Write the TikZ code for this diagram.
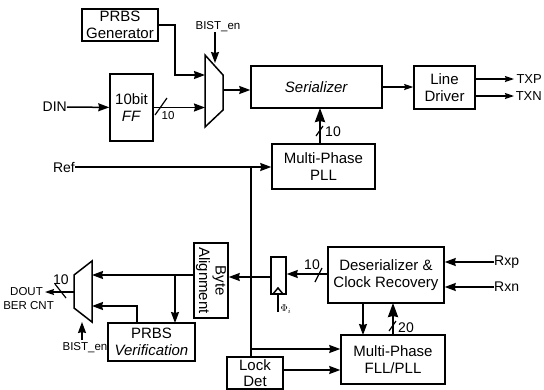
\documentclass[tikz,border=0pt]{standalone}
\usepackage{fontspec}
\setmainfont{Liberation Sans}
\usetikzlibrary{arrows.meta, positioning, calc}

\begin{document}
\begin{tikzpicture}[
        x=1pt, y=-1pt,
        block/.style={rectangle, draw, line width=1.5pt, inner sep=0pt, align=center, font=\fontsize{15}{16.5}\selectfont},
        sig/.style={inner sep=0pt, font=\fontsize{14}{15}\selectfont},
        smalltext/.style={inner sep=0pt, font=\fontsize{11.5}{13.5}\selectfont},
        mux/.style={draw, line width=1.5pt, line join=miter},
        wire/.style={line width=1.5pt},
        arrow/.style={-{Stealth[length=11pt, width=8pt, inset=1pt]}, line width=1.5pt},
        minor/.style={-{Stealth[length=9pt, width=6pt, inset=1pt]}, line width=1.3pt},
        bigarrow/.style={-{Stealth[length=14pt, width=10pt, inset=1pt]}, line width=2.2pt},
        slash/.style={line width=1.2pt}
    ]
    \useasboundingbox (0,0) rectangle (544,389);

    % Transmit side
    \node (gen) [block, minimum width=76pt, minimum height=32pt] at (120,25) {PRBS\\Generator};
    \node (ff) [block, minimum width=43pt, minimum height=67pt] at (131.5,107.5) {10bit\\\textit{FF}};
    \node (ser) [block, minimum width=131pt, minimum height=42pt] at (316.5,87) {\textit{Serializer}};
    \node (drv) [block, minimum width=61pt, minimum height=43pt] at (444.5,87.5) {Line\\Driver};
    \node (pll) [block, minimum width=103pt, minimum height=45pt] at (323.5,166.5) {Multi-Phase\\PLL};

    % Receive side
    \node (des) [block, minimum width=116pt, minimum height=56pt] at (386,275) {Deserializer \&\\Clock Recovery};
    \node (fll) [block, minimum width=104pt, minimum height=49pt] at (393,359.5) {Multi-Phase\\FLL/PLL};
    \node (lock) [block, minimum width=56pt, minimum height=32pt] at (255,373) {Lock\\Det};
    \node (reg) [block, minimum width=15pt, minimum height=37pt] at (278.5,275.5) {};
    \node (byte) [block, rotate=-90, minimum width=75pt, minimum height=34pt] at (211,280.5) {Byte\\Alignment};
    \node (ver) [block, minimum width=87pt, minimum height=38pt] at (151.5,342) {PRBS\\\textit{Verification}};

    % Multiplexer
    \coordinate (muxa) at (205,55);
    \coordinate (muxb) at (223,75);
    \coordinate (muxc) at (223,110);
    \coordinate (muxd) at (205,127);
    \draw [mux] (muxa) -- (muxb) -- (muxc) -- (muxd) -- cycle;
    \coordinate (muxb2) at (74,275);
    \coordinate (muxa2) at (92,261);
    \coordinate (muxd2) at (92,322);
    \coordinate (muxc2) at (74,308);
    \draw [mux] (muxa2) -- (muxb2) -- (muxc2) -- (muxd2) -- cycle;

    % Labels
    \node (din) [sig, anchor=east] at (67,107) {DIN};
    \node (ref) [sig, anchor=east] at (75,167) {Ref};
    \node (txp) [sig, font=\fontsize{13}{15}\selectfont, anchor=east] at (542,79) {TXP};
    \node (txn) [sig, font=\fontsize{13}{15}\selectfont, anchor=east] at (542,96) {TXN};
    \node (rxp) [sig, anchor=west] at (494,262) {Rxp};
    \node (rxn) [sig, anchor=west] at (494,287) {Rxn};
    \node (dout) [smalltext, anchor=east] at (43,292) {DOUT};
    \node (ber) [smalltext, anchor=east] at (54,306) {BER CNT};
    \node (bist) [smalltext] at (218,27) {BIST\_en};
    \node (bistb) [smalltext] at (85,348) {BIST\_en};
    \node (phi) [inner sep=0pt, font=\normalsize] at (286,309) {$\Phi_i$};
    \node (ffnum) [smalltext] at (168,116) {10};
    \node (pllnum) [sig] at (333,132) {10};
    \node (vernum) [sig] at (61,280) {10};
    \node (desnum) [sig] at (312,265) {10};
    \node (fllnum) [sig] at (406,328) {20};

    % Free ends
    \coordinate (txpout) at (514,79);
    \coordinate (txnout) at (514,96);
    \coordinate (clk) at (278,312);
    \coordinate (branch) at (251,167);
    \coordinate (bistend) at (82,322);
    \coordinate (bistfoot) at (82,340);

    % Connectors
    \draw [arrow] (din) -- (ff);
    \draw [arrow] (gen.east |- 0,25) -| (175,75) -- (205,75);
    \draw [arrow] (ff.east) -- (205,107.5);
    \draw [arrow] (215,32) -- (215,63);
    \draw [arrow] (223,90) -- (ser.west |- 0,90);
    \draw [minor] (ser.east) -- (drv.west |- ser.east);
    \draw [minor] (drv.east |- txpout) -- (txpout);
    \draw [minor] (drv.east |- txnout) -- (txnout);
    \draw [bigarrow] (320,144) -- (320,108);
    \draw [arrow] (ref) -- (pll.west |- ref);
    \draw [wire] (branch) -- (lock.north -| branch);
    \draw [arrow] (branch |- 0,349) -- (fll.west |- 0,349);
    \draw [arrow] (lock.east |- 0,370) -- (fll.west |- 0,370);
    \draw [arrow] (363,303) -- (363,335);
    \draw [bigarrow] (393,335) -- (393,303);
    \draw [arrow] (rxp) -- (des.east |- rxp);
    \draw [arrow] (rxn) -- (des.east |- rxn);
    \draw [arrow] (des.west |- 0,274) -- (reg.east |- 0,274);
    \draw [arrow] (reg.west |- 0,277) -- (byte.north |- 0,277);
    \draw [arrow] (byte.south |- 0,275) -- (muxa2 |- 0,275);
    \draw [arrow] (175,275) -- (175,323);
    \draw [arrow] (137,323) |- (muxa2 |- 0,306);
    \draw [arrow] (bistfoot) -- (bistend);
    \draw [minor] (74,292) -- (45,292);
    \draw [wire] (clk) -- (278,294);

    % Clock input
    \draw [wire] (273,294) -- (278,288) -- (283,294);

    % Bus marks
    \draw [slash] (155,115) -- (167,98);
    \draw [slash] (316,136) -- (323,126);
    \draw [slash] (389,331) -- (396,321);
    \draw [slash] (55,284) -- (66,298);
    \draw [slash] (315,282) -- (322,268);

    \end{tikzpicture}
\end{document}
